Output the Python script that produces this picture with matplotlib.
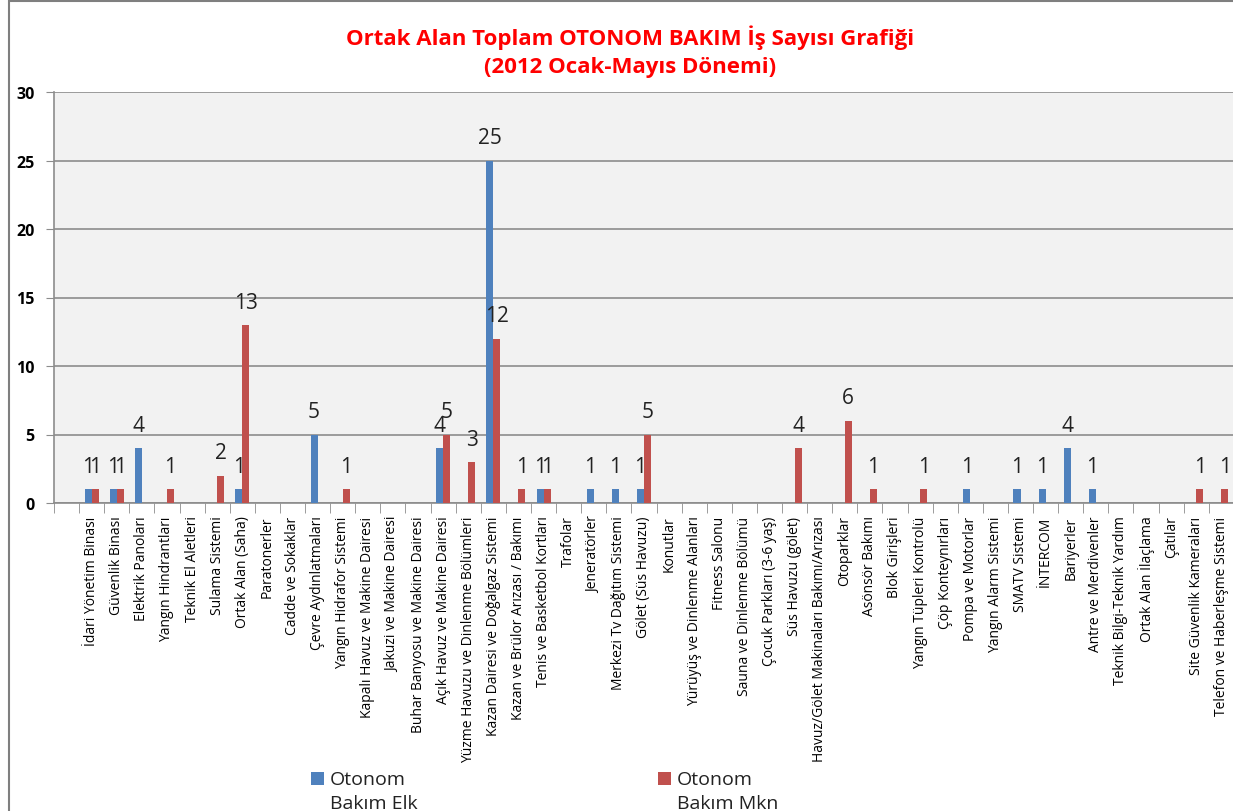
import numpy as np
import matplotlib
matplotlib.use("Agg")
import matplotlib.pyplot as plt
from matplotlib.patches import Rectangle

categories = [
    "İdari Yönetim Binası", "Güvenlik Binası", "Elektrik Panoları", "Yangın Hindrantları",
    "Teknik El Aletleri", "Sulama Sistemi", "Ortak Alan (Saha)", "Paratonerler",
    "Cadde ve Sokaklar", "Çevre Aydınlatmaları", "Yangın Hidrafor Sistemi",
    "Kapalı Havuz ve Makine Dairesi", "Jakuzi ve Makine Dairesi",
    "Buhar Banyosu ve Makine Dairesi", "Açık Havuz ve Makine Dairesi",
    "Yüzme Havuzu ve Dinlenme Bölümleri", "Kazan Dairesi ve Doğalgaz Sistemi",
    "Kazan ve Brülor Arızası / Bakımı", "Tenis ve Basketbol Kortları", "Trafolar",
    "Jeneratörler", "Merkezi Tv Dağıtım Sistemi", "Gölet (Süs Havuzu)", "Konutlar",
    "Yürüyüş ve Dinlenme Alanları", "Fitness Salonu", "Sauna ve Dinlenme Bölümü",
    "Çocuk Parkları (3-6 yaş)", "Süs Havuzu (gölet)",
    "Havuz/Gölet Makinaları Bakımı/Arızası", "Otoparklar", "Asönsör Bakımı",
    "Blok Girişleri", "Yangın Tüpleri Kontrolü", "Çöp Konteynırları",
    "Pompa ve Motorlar", "Yangın Alarm Sistemi", "SMATV Sistemi", "İNTERCOM",
    "Bariyerler", "Antre ve Merdivenler", "Teknik Bilgi-Teknik Yardım",
    "Ortak Alan İlaçlama", "Çatılar", "Site Güvenlik Kameraları",
    "Telefon ve Haberleşme Sistemi",
]

elk = [1, 1, 4, 0, 0, 0, 1, 0, 0, 5, 0, 0, 0, 0, 4, 0, 25, 0, 1, 0, 1, 1, 1, 0,
       0, 0, 0, 0, 0, 0, 0, 0, 0, 0, 0, 1, 0, 1, 1, 4, 1, 0, 0, 0, 0, 0]
mkn = [1, 1, 0, 1, 0, 2, 13, 0, 0, 0, 1, 0, 0, 0, 5, 3, 12, 1, 1, 0, 0, 0, 5, 0,
       0, 0, 0, 0, 4, 0, 6, 1, 0, 1, 0, 0, 0, 0, 0, 0, 0, 0, 0, 0, 1, 1]

series_names = ["Otonom\nBakım Elk", "Otonom\nBakım Mkn"]
colors = ["#4F81BD", "#C0504D"]

plt.rcParams["font.family"] = ["Open Sans", "DejaVu Sans"]

fig = plt.figure(figsize=(12.33, 8.12), dpi=100)
ax = fig.add_axes([54 / 1233, 308 / 812, 1205 / 1233, 411 / 812])
ax.set_facecolor("#F2F2F2")

x = np.arange(len(categories))
w = 0.28
b1 = ax.bar(x - w / 2, elk, w, color=colors[0], linewidth=0, label=series_names[0], zorder=3)
b2 = ax.bar(x + w / 2, mkn, w, color=colors[1], linewidth=0, label=series_names[1], zorder=3)

for bars, vals in ((b1, elk), (b2, mkn)):
    for rect, v in zip(bars, vals):
        if v == 0:
            continue
        ax.annotate(str(v), (rect.get_x() + rect.get_width() / 2, v),
                    xytext=(0, 12.5), textcoords="offset points",
                    ha="center", va="baseline", fontsize=15, color="#222222", zorder=4)

ax.set_xlim(-1.5, len(categories) + 0.5)
ax.set_ylim(0, 30)
ax.set_yticks(range(0, 31, 5))
ax.yaxis.grid(True, color="#8C8C8C", linewidth=1.2, zorder=1)
ax.tick_params(axis="y", length=6, color="#8C8C8C", labelsize=11.5, pad=8)
for lbl in ax.get_yticklabels():
    lbl.set_fontweight("bold")

ax.set_xticks(x)
ax.set_xticklabels(categories, rotation=90, fontsize=10, va="top", ha="center")
ax.set_xticks(np.arange(-1.5, len(categories) + 1, 1), minor=True)
ax.tick_params(axis="x", which="major", length=0, pad=9)
ax.tick_params(axis="x", which="minor", length=7, color="#8C8C8C")

for side in ("top", "right"):
    ax.spines[side].set_visible(False)
for side in ("left", "bottom"):
    ax.spines[side].set_color("#8C8C8C")
    ax.spines[side].set_linewidth(1.2)

fig.text(630 / 1233, 1 - 38 / 812, "Ortak Alan Toplam OTONOM BAKIM İş Sayısı Grafiği",
         ha="center", va="center", color="#FF0000", fontsize=16, fontweight="bold")
fig.text(630 / 1233, 1 - 67 / 812, "(2012 Ocak-Mayıs Dönemi)",
         ha="center", va="center", color="#FF0000", fontsize=16, fontweight="bold")

# legend, one box per series like the excel layout
for bars, name, xpos in ((b1, series_names[0], 311), (b2, series_names[1], 658)):
    leg = fig.legend([bars], [name], loc="upper left",
                     bbox_to_anchor=(xpos / 1233, 1 - 771 / 812),
                     frameon=False, fontsize=14, borderpad=0, borderaxespad=0,
                     handlelength=0.67, handleheight=0.67, handletextpad=0.3,
                     labelspacing=0)
    for t in leg.get_texts():
        t.set_color("#222222")
        t.set_linespacing(1.45)
    # square sits next to the first line, as in excel
    for h in leg.legend_handles:
        h.set_y(h.get_y() + 9)

# chart area border
fig.patches.append(Rectangle((9 / 1233, -0.1), 1.2, 1.1 - 1.5 / 812, transform=fig.transFigure,
                             fill=False, edgecolor="#7F7F7F", linewidth=1.5))

fig.savefig("out.png", dpi=100)
